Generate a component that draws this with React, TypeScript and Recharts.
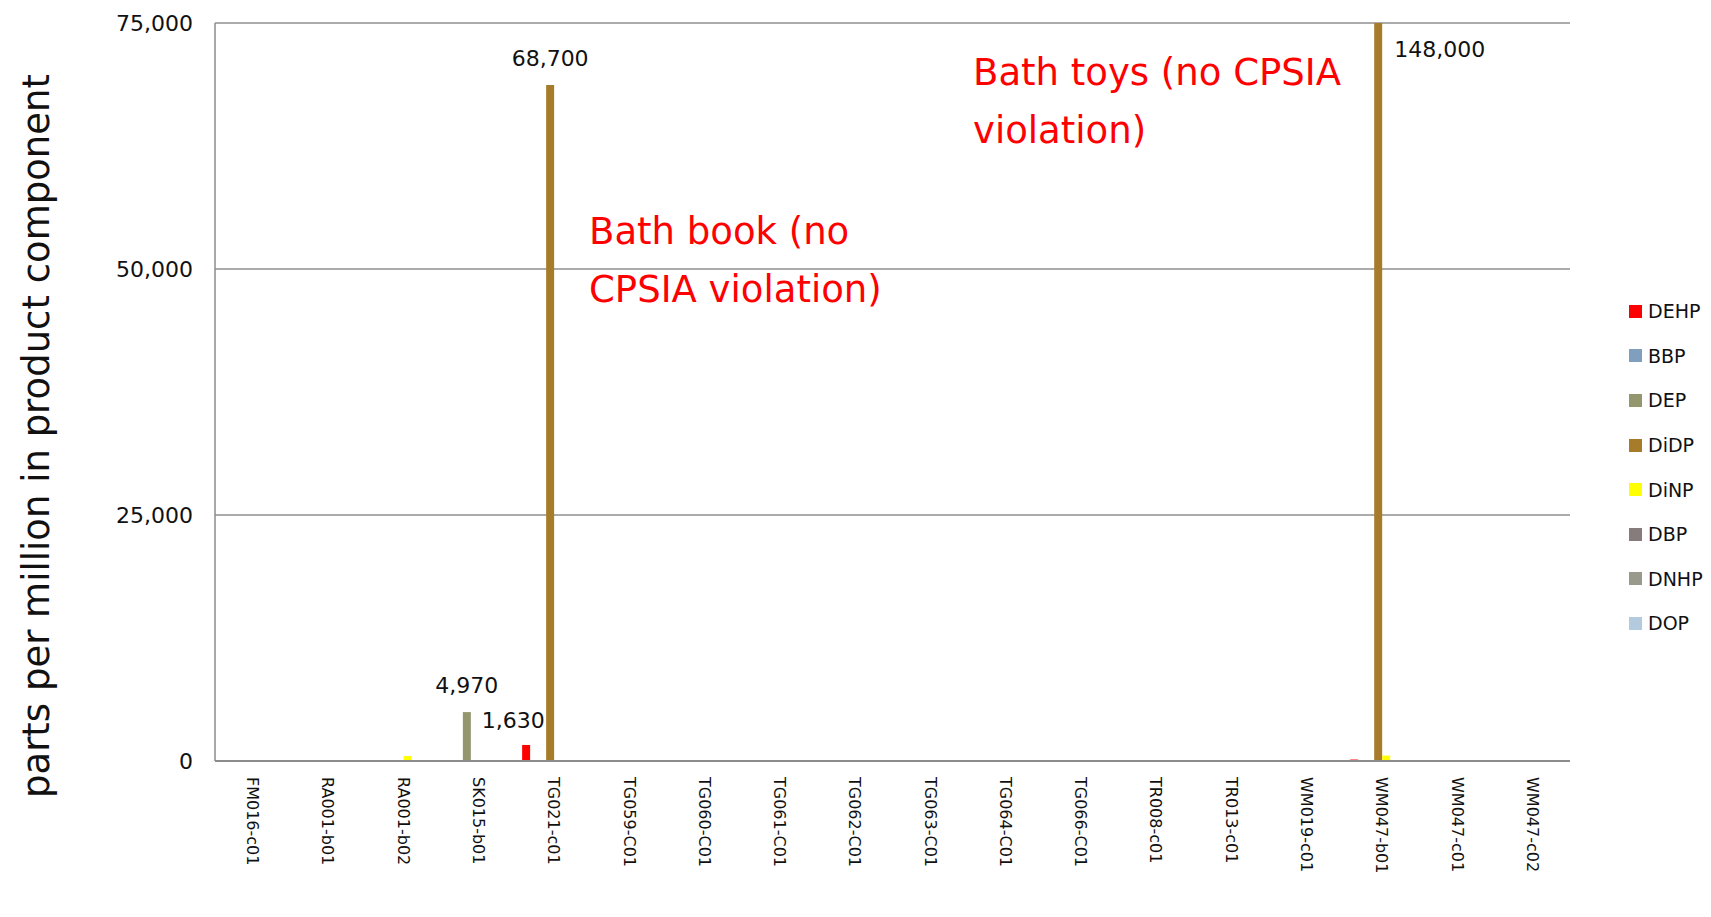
import React from "react";
import {
  Bar,
  BarChart,
  CartesianGrid,
  LabelList,
  XAxis,
  YAxis,
} from "recharts";

const samples = [
  "FM016-c01",
  "RA001-b01",
  "RA001-b02",
  "SK015-b01",
  "TG021-c01",
  "TG059-C01",
  "TG060-C01",
  "TG061-C01",
  "TG062-C01",
  "TG063-C01",
  "TG064-C01",
  "TG066-C01",
  "TR008-c01",
  "TR013-c01",
  "WM019-c01",
  "WM047-b01",
  "WM047-c01",
  "WM047-c02",
];

const dehp = [0, 0, 0, 0, 1630, 0, 0, 0, 0, 0, 0, 0, 0, 0, 0, 150, 0, 0];
const bbp = [0, 0, 0, 0, 0, 0, 0, 0, 0, 0, 0, 0, 0, 0, 0, 0, 0, 0];
const dep = [0, 0, 0, 4970, 0, 0, 0, 0, 0, 0, 0, 0, 0, 0, 0, 0, 0, 0];
const didp = [0, 0, 0, 0, 68700, 0, 0, 0, 0, 0, 0, 0, 0, 0, 0, 148000, 0, 0];
const dinp = [0, 0, 500, 0, 0, 0, 0, 0, 0, 0, 0, 0, 0, 0, 0, 550, 0, 0];
const dbp = [0, 0, 0, 0, 0, 0, 0, 0, 0, 0, 0, 0, 0, 0, 0, 0, 0, 0];
const dnhp = [0, 0, 0, 0, 0, 0, 0, 0, 0, 0, 0, 0, 0, 0, 0, 0, 0, 0];
const dop = [0, 0, 0, 0, 0, 0, 0, 0, 0, 0, 0, 0, 0, 0, 0, 0, 0, 0];

const yTicks = [0, 25000, 50000, 75000];

const series = [
  { key: "DEHP", values: dehp, color: "#ff0000" },
  { key: "BBP", values: bbp, color: "#809fbf" },
  { key: "DEP", values: dep, color: "#94966e" },
  { key: "DiDP", values: didp, color: "#a67c2a" },
  { key: "DiNP", values: dinp, color: "#ffff00" },
  { key: "DBP", values: dbp, color: "#867c7c" },
  { key: "DNHP", values: dnhp, color: "#9a9a8c" },
  { key: "DOP", values: dop, color: "#b4cade" },
];

const data = samples.map((name, i) => {
  const row: Record<string, string | number> = { name };
  series.forEach((s) => {
    row[s.key] = s.values[i];
  });
  return row;
});

const FONT = "'DejaVu Sans', sans-serif";
const W = 1711;
const H = 917;
const TOP = 23;

const fmt = (v: number) => Number(v).toLocaleString("en-US");

// data label: shown only for values of 1,000+, nudged like the original
function makeLabel(dx: number, dy: number, anchor: string) {
  return (props: any) => {
    const { x, y, width, value } = props;
    if (!value || value < 1000) return null;
    const top = Math.max(Number(y), TOP);
    const cx =
      anchor === "start" ? Number(x) + Number(width) + dx : Number(x) + Number(width) / 2 + dx;
    return (
      <text
        x={cx}
        y={top + dy}
        textAnchor={anchor}
        dominantBaseline="central"
        fontFamily={FONT}
        fontSize={22}
        fill="#111"
      >
        {fmt(value)}
      </text>
    );
  };
}

const didpLabel = (props: any) => {
  const { y, value } = props;
  if (Number(y) < TOP) return makeLabel(12, 26, "start")(props);
  if (!value) return null;
  return makeLabel(0, -26, "middle")(props);
};

const XTick = (props: any) => {
  const { x, y, payload } = props;
  return (
    <text
      transform={`translate(${x},${y + 8}) rotate(90)`}
      textAnchor="start"
      dominantBaseline="central"
      fontFamily={FONT}
      fontSize={16}
      fill="#111"
    >
      {payload.value}
    </text>
  );
};

export default function App() {
  return (
    <div
      style={{
        position: "absolute",
        left: 0,
        top: 0,
        width: W,
        height: H,
        background: "#fff",
        fontFamily: FONT,
        overflow: "hidden",
      }}
    >
      <BarChart
        width={W}
        height={H}
        data={data}
        margin={{ top: TOP, right: 141, left: 0, bottom: 0 }}
        barCategoryGap="8%"
        barGap={0}
      >
        <CartesianGrid
          vertical={false}
          stroke="#8f8f8f"
          strokeWidth={1.5}
        />
        <XAxis
          dataKey="name"
          interval={0}
          height={156}
          tick={<XTick />}
          tickLine={false}
          axisLine={{ stroke: "#8c8c8c", strokeWidth: 2 }}
        />
        <YAxis
          width={215}
          domain={[0, 75000]}
          ticks={yTicks}
          allowDataOverflow
          tickFormatter={(v) => fmt(v)}
          tick={{ fontSize: 22, fill: "#111", fontFamily: FONT }}
          tickLine={false}
          tickSize={0}
          tickMargin={22}
          axisLine={{ stroke: "#8c8c8c", strokeWidth: 1.5 }}
          label={{
            content: () => (
              <text
                transform="translate(36,436) rotate(-90)"
                textAnchor="middle"
                dominantBaseline="central"
                fontFamily={FONT}
                fontSize={37}
                fill="#111"
              >
                parts per million in product component
              </text>
            ),
          }}
        />
        {series.map((s) => (
          <Bar
            key={s.key}
            dataKey={s.key}
            fill={s.color}
            isAnimationActive={false}
          >
            {s.key === "DEHP" && (
              <LabelList dataKey="DEHP" content={makeLabel(-13, -24, "middle")} />
            )}
            {s.key === "DEP" && (
              <LabelList dataKey="DEP" content={makeLabel(0, -27, "middle")} />
            )}
            {s.key === "DiDP" && (
              <LabelList dataKey="DiDP" content={didpLabel} />
            )}
          </Bar>
        ))}
      </BarChart>

      <div
        style={{
          position: "absolute",
          left: 973,
          top: 44,
          color: "#ff0000",
          fontSize: 37,
          lineHeight: "58px",
          whiteSpace: "nowrap",
        }}
      >
        Bath toys (no CPSIA
        <br />
        violation)
      </div>
      <div
        style={{
          position: "absolute",
          left: 589,
          top: 203,
          color: "#ff0000",
          fontSize: 37,
          lineHeight: "58px",
          whiteSpace: "nowrap",
        }}
      >
        Bath book (no
        <br />
        CPSIA violation)
      </div>

      <div style={{ position: "absolute", left: 1629, top: 289 }}>
        {series.map((s) => (
          <div
            key={s.key}
            style={{
              display: "flex",
              alignItems: "center",
              height: 44.6,
              fontSize: 19,
              color: "#111",
            }}
          >
            <span
              style={{
                width: 13,
                height: 13,
                background: s.color,
                marginRight: 6,
                display: "inline-block",
              }}
            />
            {s.key}
          </div>
        ))}
      </div>
    </div>
  );
}
